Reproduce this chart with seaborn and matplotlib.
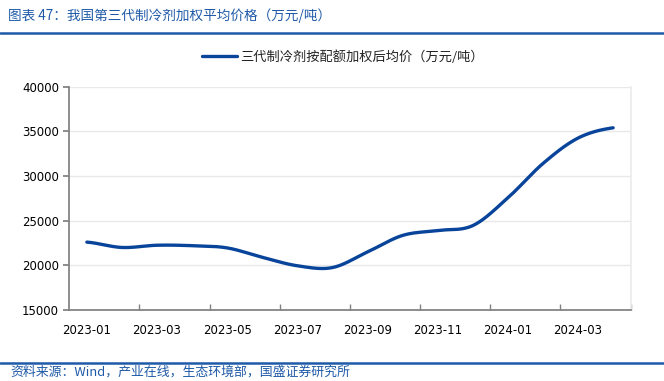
import numpy as np
import pandas as pd
import matplotlib
matplotlib.use('Agg')
import matplotlib.pyplot as plt
import seaborn as sns

# 数据（万元/吨，按月）
months = ['2023-01', '2023-02', '2023-03', '2023-04', '2023-05', '2023-06', '2023-07', '2023-08',
          '2023-09', '2023-10', '2023-11', '2023-12', '2024-01', '2024-02', '2024-03', '2024-04']
price = [22600, 22000, 22250, 22200, 21950, 20900, 19950, 19750,
         21500, 23350, 23900, 24450, 27560, 31400, 34250, 35400]
series_name = '三代制冷剂按配额加权后均价（万元/吨）'
title = '图表 47：我国第三代制冷剂加权平均价格（万元/吨）'
source = '资料来源：Wind，产业在线，生态环境部，国盛证券研究所'

sns.set_theme(style='white')
plt.rcParams['font.family'] = ['Noto Sans CJK SC', 'DejaVu Sans']

line_color = '#08449a'
head_color = '#1f5aa8'


# Excel 风格平滑线（Catmull-Rom）
def smooth(y, n=30):
    y = np.asarray(y, dtype=float)
    p = np.concatenate([[y[0]], y, [y[-1]]])
    xs, ys = [], []
    for i in range(len(y) - 1):
        t = np.linspace(0, 1, n, endpoint=False)
        p0, p1, p2, p3 = p[i], p[i + 1], p[i + 2], p[i + 3]
        seg = 0.5 * (2 * p1 + (-p0 + p2) * t + (2 * p0 - 5 * p1 + 4 * p2 - p3) * t ** 2
                     + (-p0 + 3 * p1 - 3 * p2 + p3) * t ** 3)
        xs.append(i + t)
        ys.append(seg)
    xs.append([len(y) - 1])
    ys.append([y[-1]])
    return np.concatenate(xs), np.concatenate(ys)


sx, sy = smooth(price)
df = pd.DataFrame({'x': sx, 'price': sy})

fig = plt.figure(figsize=(6.64, 3.81), dpi=100)
ax = fig.add_axes([0.1044, 0.1864, 0.8454, 0.586])

sns.lineplot(data=df, x='x', y='price', ax=ax, color=line_color, linewidth=2.4,
             label=series_name, sort=False)

ax.set_xlim(-0.5, len(months) - 0.5)
ax.set_ylim(15000, 40000)
ax.set_yticks(range(15000, 40001, 5000))
ax.set_xticks(range(0, len(months), 2))
ax.set_xticklabels(months[::2])
ax.set_xticks(np.arange(1.5, len(months), 2), minor=True)
ax.tick_params(axis='x', which='major', length=0, pad=10, labelsize=8.5, colors='black')
ax.tick_params(axis='x', which='minor', direction='in', length=4, color='#808080', bottom=True)
ax.tick_params(axis='y', length=4, color='#808080', labelsize=8.5, colors='black', left=True)
for lab in ax.get_xticklabels() + ax.get_yticklabels():
    lab.set_family('DejaVu Sans')
ax.set_xlabel('')
ax.set_ylabel('')
ax.grid(axis='y', color='#e8e8e8', linewidth=1)
ax.spines['left'].set_color('#808080')
ax.spines['bottom'].set_color('#808080')
ax.spines['top'].set_visible(False)
ax.spines['right'].set_color('#ececec')

leg = ax.legend(loc='center', bbox_to_anchor=(0.488, 1.134), frameon=False,
                fontsize=9.5, handlelength=2.6, handletextpad=0.3)
for t in leg.get_texts():
    t.set_color('#222222')

# 标题与来源
fig.text(0.012, 0.958, title, fontsize=9.8, color=head_color, va='center', ha='left')
fig.add_artist(plt.Line2D([0, 1], [0.914, 0.914], color=head_color, linewidth=1.8))
fig.add_artist(plt.Line2D([0, 1], [0.048, 0.048], color=head_color, linewidth=1.8))
fig.text(0.015, 0.024, source, fontsize=9.3, color=head_color, va='center', ha='left')

fig.savefig('out.png', dpi=100)
plt.close()
